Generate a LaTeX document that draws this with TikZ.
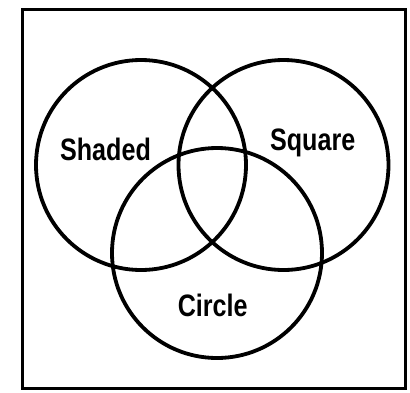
\documentclass[tikz,border=0pt]{standalone}
\usepackage{fontspec}
\setsansfont{Liberation Sans}
\usetikzlibrary{positioning}

\begin{document}
\begin{tikzpicture}[
    x=1pt, y=-1pt,
    font=\sffamily,
    ring/.style={draw, circle, line width=3.8pt, minimum size=210pt, inner sep=0pt},
    setlabel/.style={anchor=base, font=\sffamily\bfseries\fontsize{31}{31}\selectfont, xscale=0.81, inner sep=0pt},
    frame/.style={draw, line width=3pt},
]

\useasboundingbox (0,0) rectangle (410,392);

% ============ FRAME ============
\draw[frame] (22,9.5) rectangle (405,388);

% ============ CIRCLES ============
\node[ring] (shaded) at (141,165) {};
\node[ring] (square) at (283.5,165) {};
\node[ring] (circle) at (217,253) {};

% ============ LABELS ============
\node[setlabel] (shadedlbl) at (105.5,160.7) {Shaded};
\node[setlabel] (squarelbl) at (312.7,150)   {Square};
\node[setlabel] (circlelbl) at (212.7,316.7) {Circle};

\end{tikzpicture}
\end{document}
